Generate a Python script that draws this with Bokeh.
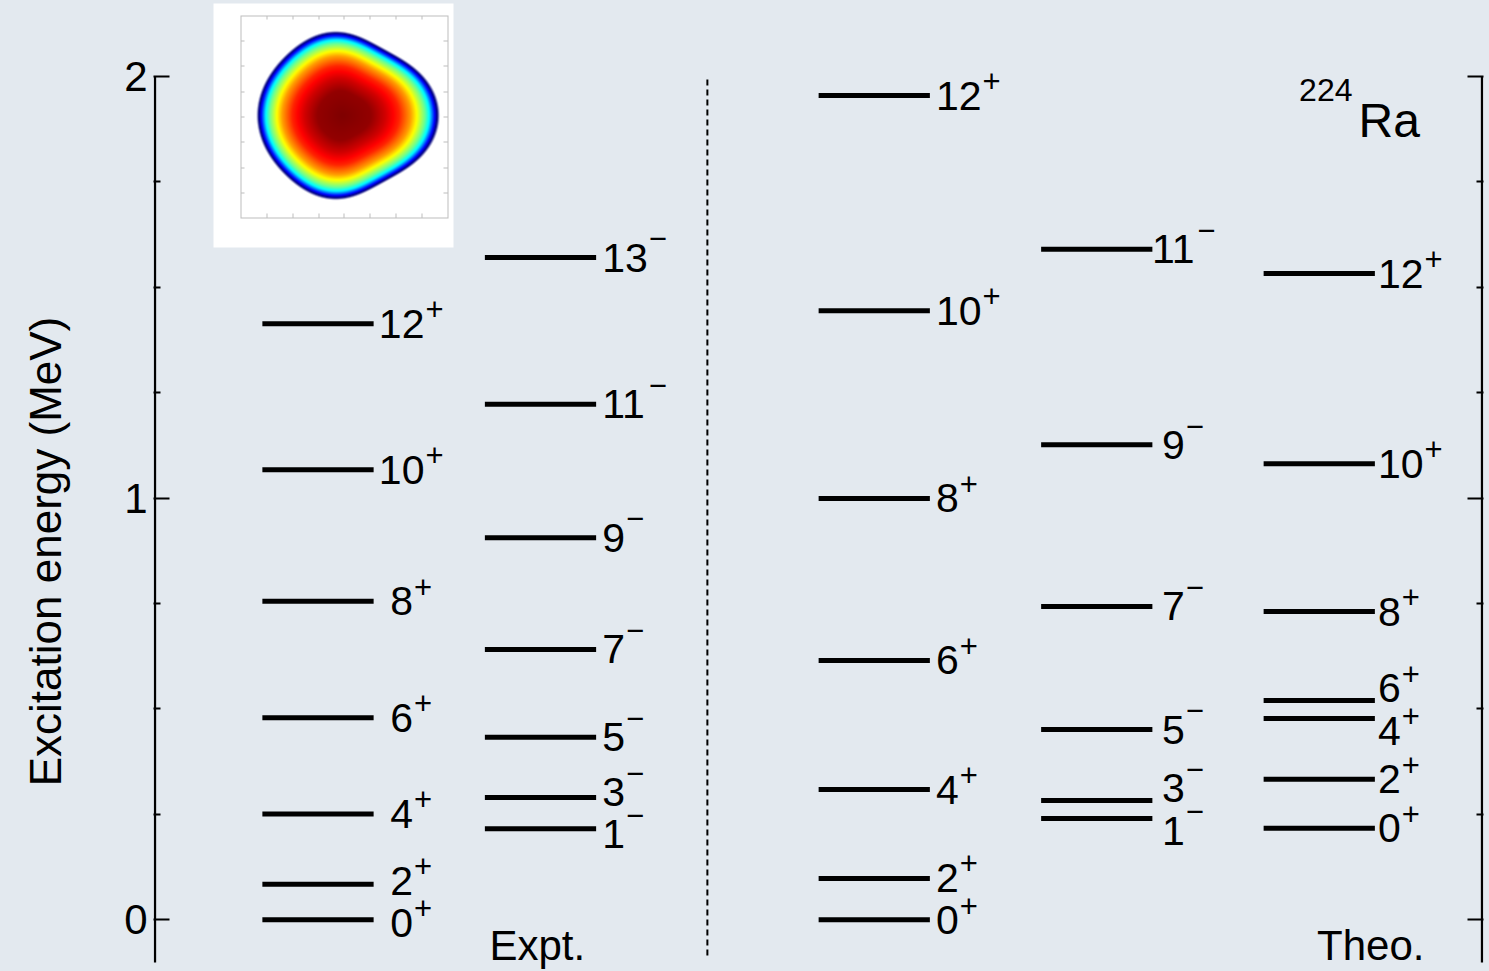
import numpy as np
from bokeh.plotting import figure
from bokeh.layouts import row
from bokeh.models import Range1d, FixedTicker, LinearAxis, ColumnDataSource
from bokeh.embed import file_html
from bokeh.resources import INLINE
from bokeh.core.properties import value

# ---- level schemes of 224Ra (excitation energies in MeV) ----
expt_pos_spin = ["0", "2", "4", "6", "8", "10", "12"]
expt_pos_energy = [0.0, 0.084, 0.251, 0.479, 0.755, 1.067, 1.413]

expt_neg_spin = ["1", "3", "5", "7", "9", "11", "13"]
expt_neg_energy = [0.216, 0.290, 0.433, 0.641, 0.906, 1.222, 1.570]

theo_pos_spin = ["0", "2", "4", "6", "8", "10", "12"]
theo_pos_energy = [0.0, 0.098, 0.309, 0.615, 0.999, 1.444, 1.954]

theo_neg_spin = ["1", "3", "5", "7", "9", "11"]
theo_neg_energy = [0.240, 0.283, 0.451, 0.743, 1.126, 1.590]

theo_band_spin = ["0", "2", "4", "6", "8", "10", "12"]
theo_band_energy = [0.217, 0.333, 0.477, 0.520, 0.731, 1.081, 1.532]

y_major_ticks = [0, 1, 2]
y_minor_ticks = [0.25, 0.5, 0.75, 1.25, 1.5, 1.75]

# ---- layout ----
W, H = 1489, 971
LEFT_W = 113                 # strip that carries the vertical axis title
FRAME_L, FRAME_R = 153, 1483
PX_PER_UNIT = 222.5          # horizontal pixels per column step
COL0_PX = 317.5              # pixel position of the first column
PX_PER_MEV = 421.8
ZERO_PX = 919.3              # pixel row of 0 MeV
BASE_SHIFT = 0.357           # renderer puts the alphabetic baseline this far (x font size) below the anchor

FONT = "Liberation Sans"
BG = "#e3e9ef"
INK = "#000000"


def x_at(px):
    return (px - COL0_PX) / PX_PER_UNIT


def e_at(py):
    return (ZERO_PX - py) / PX_PER_MEV


def base_off(fs, below=0.0):
    """y_offset putting the text baseline `below` px under its anchor."""
    return below - BASE_SHIFT * fs


y_range = Range1d(e_at(H), e_at(0))

p = figure(
    width=W - LEFT_W, height=H,
    x_range=Range1d(x_at(FRAME_L), x_at(FRAME_R)),
    y_range=y_range,
    output_backend="svg", toolbar_location=None,
    x_axis_location=None,
    min_border_left=FRAME_L - LEFT_W, min_border_right=W - FRAME_R,
    min_border_top=0, min_border_bottom=0,
    background_fill_color=BG, border_fill_color=BG,
    outline_line_color=None,
)
p.grid.visible = False


def style_axis(ax, labels=True):
    ax.ticker = FixedTicker(ticks=y_major_ticks, minor_ticks=y_minor_ticks)
    ax.axis_line_color = None
    ax.major_tick_in = 16
    ax.major_tick_out = 0
    ax.minor_tick_in = 7
    ax.minor_tick_out = 0
    ax.major_tick_line_width = 2
    ax.minor_tick_line_width = 2
    ax.major_tick_line_color = INK
    ax.minor_tick_line_color = INK
    if labels:
        ax.major_label_text_font = FONT
        ax.major_label_text_font_size = "42px"
        ax.major_label_text_color = INK
        ax.major_label_standoff = 6
    else:
        ax.major_label_overrides = {t: "" for t in y_major_ticks}
        ax.major_label_standoff = 0


style_axis(p.yaxis[0])
right_axis = LinearAxis()
style_axis(right_axis, labels=False)
p.add_layout(right_axis, "right")

# frame spines (stop at the top tick)
spine_x = [x_at(154.5), x_at(1481.5)]
p.segment(x0=spine_x, x1=spine_x, y0=[e_at(962)] * 2, y1=[2.0, 2.0],
          line_color=INK, line_width=2.3)

# divider between experiment and theory
p.segment(x0=[1.75], x1=[1.75], y0=[e_at(955)], y1=[2.0],
          line_color=INK, line_width=2, line_dash="6 4")

# ---- inset: deformed density of 224Ra ----
IW, IH = 240, 244
yy, xx = np.mgrid[0:IH, 0:IW] + 0.5
rgb = np.full((IH, IW, 3), 255.0)
box_col = np.array([190.0, 190.0, 190.0])
for c in (27, 234):
    rgb[12:215, c] = box_col
for r in (12, 214):
    rgb[r, 27:235] = box_col
for k in range(9):
    tx = int(round(27 + k * 207 / 8))
    rgb[210:214, tx] = box_col
    rgb[12:16, tx] = box_col
    ty = int(round(12 + k * 202 / 8))
    rgb[ty, 27:31] = box_col
    rgb[ty, 230:234] = box_col

cx, cy, sx, sy = 129.0, 112.0, 10.5, 11.5
dz = (xx - cx) / sx
dr = (cy - yy) / sy
rad = np.hypot(dz, dr)
cth = dz / np.maximum(rad, 1e-9)
Y20 = 0.3154 * (3 * cth**2 - 1)
Y30 = 0.3732 * (5 * cth**3 - 3 * cth)
Y40 = 0.1058 * (35 * cth**4 - 30 * cth**2 + 3)
Rsurf = 7.29 * (1 + 0.154 * Y20 + 0.097 * Y30 + 0.080 * Y40)
t = rad / Rsurf
# colour level across the surface (core dark red -> rim navy)
v = np.interp(t, [0.0, 0.3, 0.45, 0.6, 0.72, 0.8, 0.87, 0.92, 0.96, 1.0],
              [1.0, 0.98, 0.92, 0.84, 0.72, 0.6, 0.48, 0.36, 0.18, 0.0])
jet = np.stack([
    np.clip(1.5 - np.abs(4 * v - 3), 0, 1),
    np.clip(1.5 - np.abs(4 * v - 2), 0, 1),
    np.clip(1.5 - np.abs(4 * v - 1), 0, 1),
], axis=-1) * 255.0
alpha = np.clip((1.03 - t) / 0.03, 0, 1)[..., None]
rgb = rgb * (1 - alpha) + jet * alpha
rgba = np.empty((IH, IW, 4), dtype=np.uint8)
rgba[..., :3] = np.clip(rgb, 0, 255).astype(np.uint8)
rgba[..., 3] = 255
rgba = np.ascontiguousarray(rgba[::-1])
p.image_rgba(image=[rgba.view(np.uint32).reshape(IH, IW)],
             x=x_at(213), y=e_at(3 + IH), dw=IW / PX_PER_UNIT, dh=IH / PX_PER_MEV)


# ---- level lines and spin labels ----
HALF = 0.25
LABEL_PX = 41
SIGN_PX = 31
DIGIT_ADV = 0.556


def spread(vals, sep):
    ys = list(vals)
    for _ in range(300):
        moved = False
        for i in range(len(ys) - 1):
            gap = ys[i + 1] - ys[i]
            if gap < sep - 1e-9:
                d = (sep - gap) / 2
                ys[i] -= d
                ys[i + 1] += d
                moved = True
        if not moved:
            break
    return ys


def draw_band(col, energies, spins, sign, align, gap):
    end = col + HALF
    n = len(energies)
    src = ColumnDataSource(dict(
        x0=[col - HALF] * n, x1=[end] * n,
        e=energies,
        lx=[end] * n,
        ly=spread(energies, 0.1),
        spin=spins,
        sign=[sign] * n,
        sdx=[gap + len(s) * DIGIT_ADV * LABEL_PX * (0.5 if align == "center" else 1.0) + 1
             for s in spins],
    ))
    p.segment(x0="x0", x1="x1", y0="e", y1="e", source=src,
              line_color=INK, line_width=5)
    # digits centred on the anchor
    p.text(x="lx", y="ly", text="spin", source=src, x_offset=gap,
           y_offset=base_off(LABEL_PX, 0.358 * LABEL_PX),
           text_align=align, text_baseline="alphabetic",
           text_font=value(FONT), text_font_size=f"{LABEL_PX}px", text_color=INK)
    # parity as a superscript
    sign_center = -14.5 if sign == "+" else -19.0
    p.text(x="lx", y="ly", text="sign", source=src, x_offset="sdx",
           y_offset=base_off(SIGN_PX, sign_center + 0.35 * SIGN_PX),
           text_align="left", text_baseline="alphabetic",
           text_font=value(FONT), text_font_size=f"{SIGN_PX}px", text_color=INK)


draw_band(0.0, expt_pos_energy, expt_pos_spin, "+", "center", 28)
draw_band(1.0, expt_neg_energy, expt_neg_spin, "\u2212", "left", 6)
draw_band(2.5, theo_pos_energy, theo_pos_spin, "+", "left", 6)
draw_band(3.5, theo_neg_energy, theo_neg_spin, "\u2212", "center", 21)
draw_band(4.5, theo_band_energy, theo_band_spin, "+", "left", 3)

# ---- captions ----
p.text(x=[x_at(489)], y=[e_at(960)], text=["Expt."], text_align="left",
       y_offset=base_off(42), text_baseline="alphabetic",
       text_font=value(FONT), text_font_size="42px", text_color=INK)
p.text(x=[x_at(1424)], y=[e_at(960)], text=["Theo."], text_align="right",
       y_offset=base_off(42), text_baseline="alphabetic",
       text_font=value(FONT), text_font_size="42px", text_color=INK)
p.text(x=[x_at(1358)], y=[e_at(137)], text=["Ra"], text_align="left",
       y_offset=base_off(48), text_baseline="alphabetic",
       text_font=value(FONT), text_font_size="48px", text_color=INK)
p.text(x=[x_at(1352)], y=[e_at(101)], text=["224"], text_align="right",
       y_offset=base_off(32), text_baseline="alphabetic",
       text_font=value(FONT), text_font_size="32px", text_color=INK)

# ---- vertical axis title in its own strip ----
side = figure(
    width=LEFT_W, height=H,
    x_range=Range1d(0, LEFT_W), y_range=y_range,
    output_backend="svg", toolbar_location=None,
    x_axis_location=None, y_axis_location=None,
    min_border_left=0, min_border_right=0, min_border_top=0, min_border_bottom=0,
    background_fill_color=BG, border_fill_color=BG, outline_line_color=None,
)
side.grid.visible = False
side.text(x=[45], y=[e_at(551)], text=["Excitation energy (MeV)"],
          angle=np.pi / 2, text_align="center", text_baseline="alphabetic",
          text_font=value(FONT), text_font_size="44px", text_color=INK)

layout = row(side, p, spacing=0)
html = file_html(layout, INLINE)
# page background matches the plot so no seam shows between the two panels
html = html.replace("</head>",
                    f"<style>html, body {{ margin: 0; background: {BG}; }}</style></head>", 1)
open("out.html", "w").write(html)
